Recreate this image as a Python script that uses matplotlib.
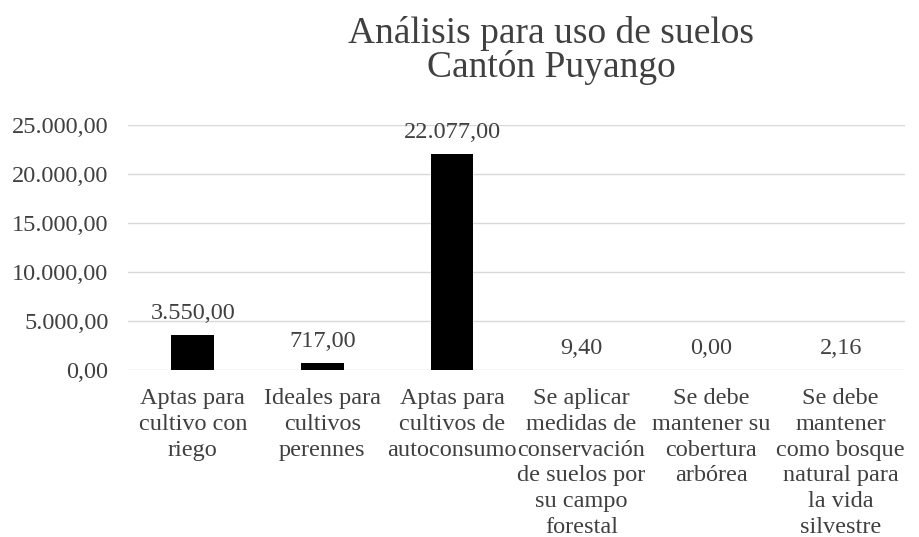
import matplotlib
matplotlib.use("Agg")
import matplotlib.pyplot as plt
from matplotlib.ticker import FuncFormatter

categories = [
    "Aptas para\ncultivo con\nriego",
    "Ideales para\ncultivos\nperennes",
    "Aptas para\ncultivos de\nautoconsumo",
    "Se aplicar\nmedidas de\nconservación\nde suelos por\nsu campo\nforestal",
    "Se debe\nmantener su\ncobertura\narbórea",
    "Se debe\nmantener\ncomo bosque\nnatural para\nla vida\nsilvestre",
]
values = [3550.00, 717.00, 22077.00, 9.40, 0.00, 2.16]
yticks = [0, 5000, 10000, 15000, 20000, 25000]
title = "Análisis para uso de suelos\nCantón Puyango"

def es_fmt(v, pos=None):
    s = f"{v:,.2f}"
    return s.replace(",", "X").replace(".", ",").replace("X", ".")

plt.rcParams['font.family'] = ['Liberation Serif', 'DejaVu Serif']
txt = '#404040'
fs = 17.5

fig = plt.figure(figsize=(9.19, 5.37), dpi=100)
ax = fig.add_axes([0.1393, 0.311, 0.846, 0.456])
x = list(range(len(categories)))
ax.bar(x, values, width=0.33, color='black', zorder=3)
ax.set_xlim(-0.5, len(categories) - 0.5)
ax.set_ylim(0, 25000)
ax.set_yticks(yticks)
ax.yaxis.set_major_formatter(FuncFormatter(es_fmt))
ax.grid(axis='y', color='#d9d9d9', linewidth=1, zorder=0)
for s in ax.spines.values():
    s.set_visible(False)
ax.tick_params(axis='both', length=0, labelsize=fs, colors=txt)
ax.tick_params(axis='y', pad=14)
ax.tick_params(axis='x', pad=13)
ax.set_xticks(x)
ax.set_xticklabels(categories, linespacing=1.3)
for xi, v in zip(x, values):
    ax.annotate(es_fmt(v), (xi, v), xytext=(0, 8), textcoords='offset points',
                ha='center', va='bottom', fontsize=fs, color=txt)
fig.text(0.6, 0.97, title, ha='center', va='top', fontsize=27, color=txt, linespacing=0.95)
fig.savefig("out.png", dpi=100)
